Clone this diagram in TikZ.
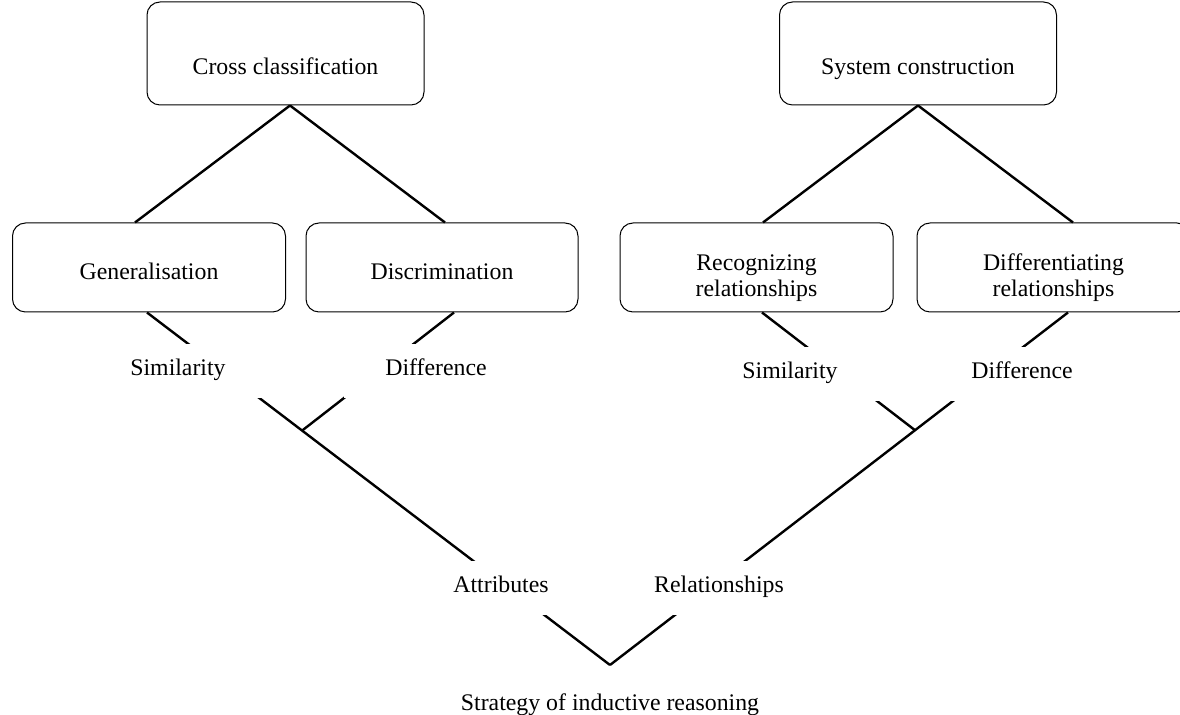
\documentclass[tikz,border=0pt]{standalone}
\usepackage{fontspec}
\setmainfont{Liberation Serif}
\usetikzlibrary{calc}
\newcommand{\gapLabel}[3]{%%
  \node[gapStyle] (#1) at (#2) {#3};
}
\newcommand{\link}[2]{%%
  \draw[lineStyle] (#1) -- (#2);
}

\begin{document}
\begin{tikzpicture}[%%
  x=0.5pt,y=-0.5pt,%%
  font=\fontsize{11.9}{13}\selectfont,%%
  boxStyle/.style={draw,line width=0.5pt,rounded corners=6.5pt,inner sep=0pt,align=center,anchor=base},%%
  topStyle/.style={boxStyle,minimum width=138.5pt,text height=36.5pt,text depth=15pt},%%
  midStyle/.style={boxStyle,minimum width=136.5pt,text height=28.5pt,text depth=16pt},%%
  twoStyle/.style={boxStyle,minimum width=136.5pt,text height=37pt,text depth=7.5pt},%%
  lineStyle/.style={line width=1.2pt},%%
  gapStyle/.style={fill=white,inner xsep=0pt,inner ysep=0pt,minimum width=92pt,text height=16pt,text depth=11pt,anchor=base}
]
\useasboundingbox (0,0) rectangle (1180,715);
%%
%% The two strategies and their steps.
\node[topStyle] (cross) at (285.5,75) {Cross classification};
\node[topStyle] (system) at (918,75) {System construction};
\node[midStyle] (gen) at (149,280) {Generalisation};
\node[midStyle,minimum width=136pt] (disc) at (442,280) {Discrimination};
\node[twoStyle] (recog) at (756.5,297) {Recognizing\\relationships};
\node[twoStyle] (diff) at (1053.5,297) {Differentiating\\relationships};
%%
%% Where the lines meet.
\coordinate (apex) at (610,665);
\coordinate (genFoot) at ([xshift=-1pt]gen.south);
\coordinate (diffFoot) at ([xshift=7.25pt]diff.south);
\coordinate (joinL) at ($(genFoot)!0.335!(apex)$);
\coordinate (joinR) at ($(diffFoot)!0.334!(apex)$);
%%
%% The lines.
\link{[xshift=2.25pt]cross.south}{[xshift=-7pt]gen.north}
\link{[xshift=2.25pt]cross.south}{[xshift=1.5pt]disc.north}
\link{system.south}{[xshift=3.25pt]recog.north}
\link{system.south}{[xshift=9.75pt]diff.north}
\link{genFoot}{apex}
\link{diffFoot}{apex}
\link{[xshift=6pt]disc.south}{joinL}
\link{[xshift=2.75pt]recog.south}{joinR}
%%
%% Labels on the lines.
\gapLabel{simL}{178,376}{Similarity}
\gapLabel{difL}{436,376}{Difference}
\gapLabel{simR}{790,379}{Similarity}
\gapLabel{difR}{1022,379}{Difference}
\gapLabel{attr}{501,593}{Attributes}
\gapLabel{rel}{719,593}{Relationships}
\node[anchor=base] (strategy) at (610,711) {Strategy of inductive reasoning};
\end{tikzpicture}
\end{document}
